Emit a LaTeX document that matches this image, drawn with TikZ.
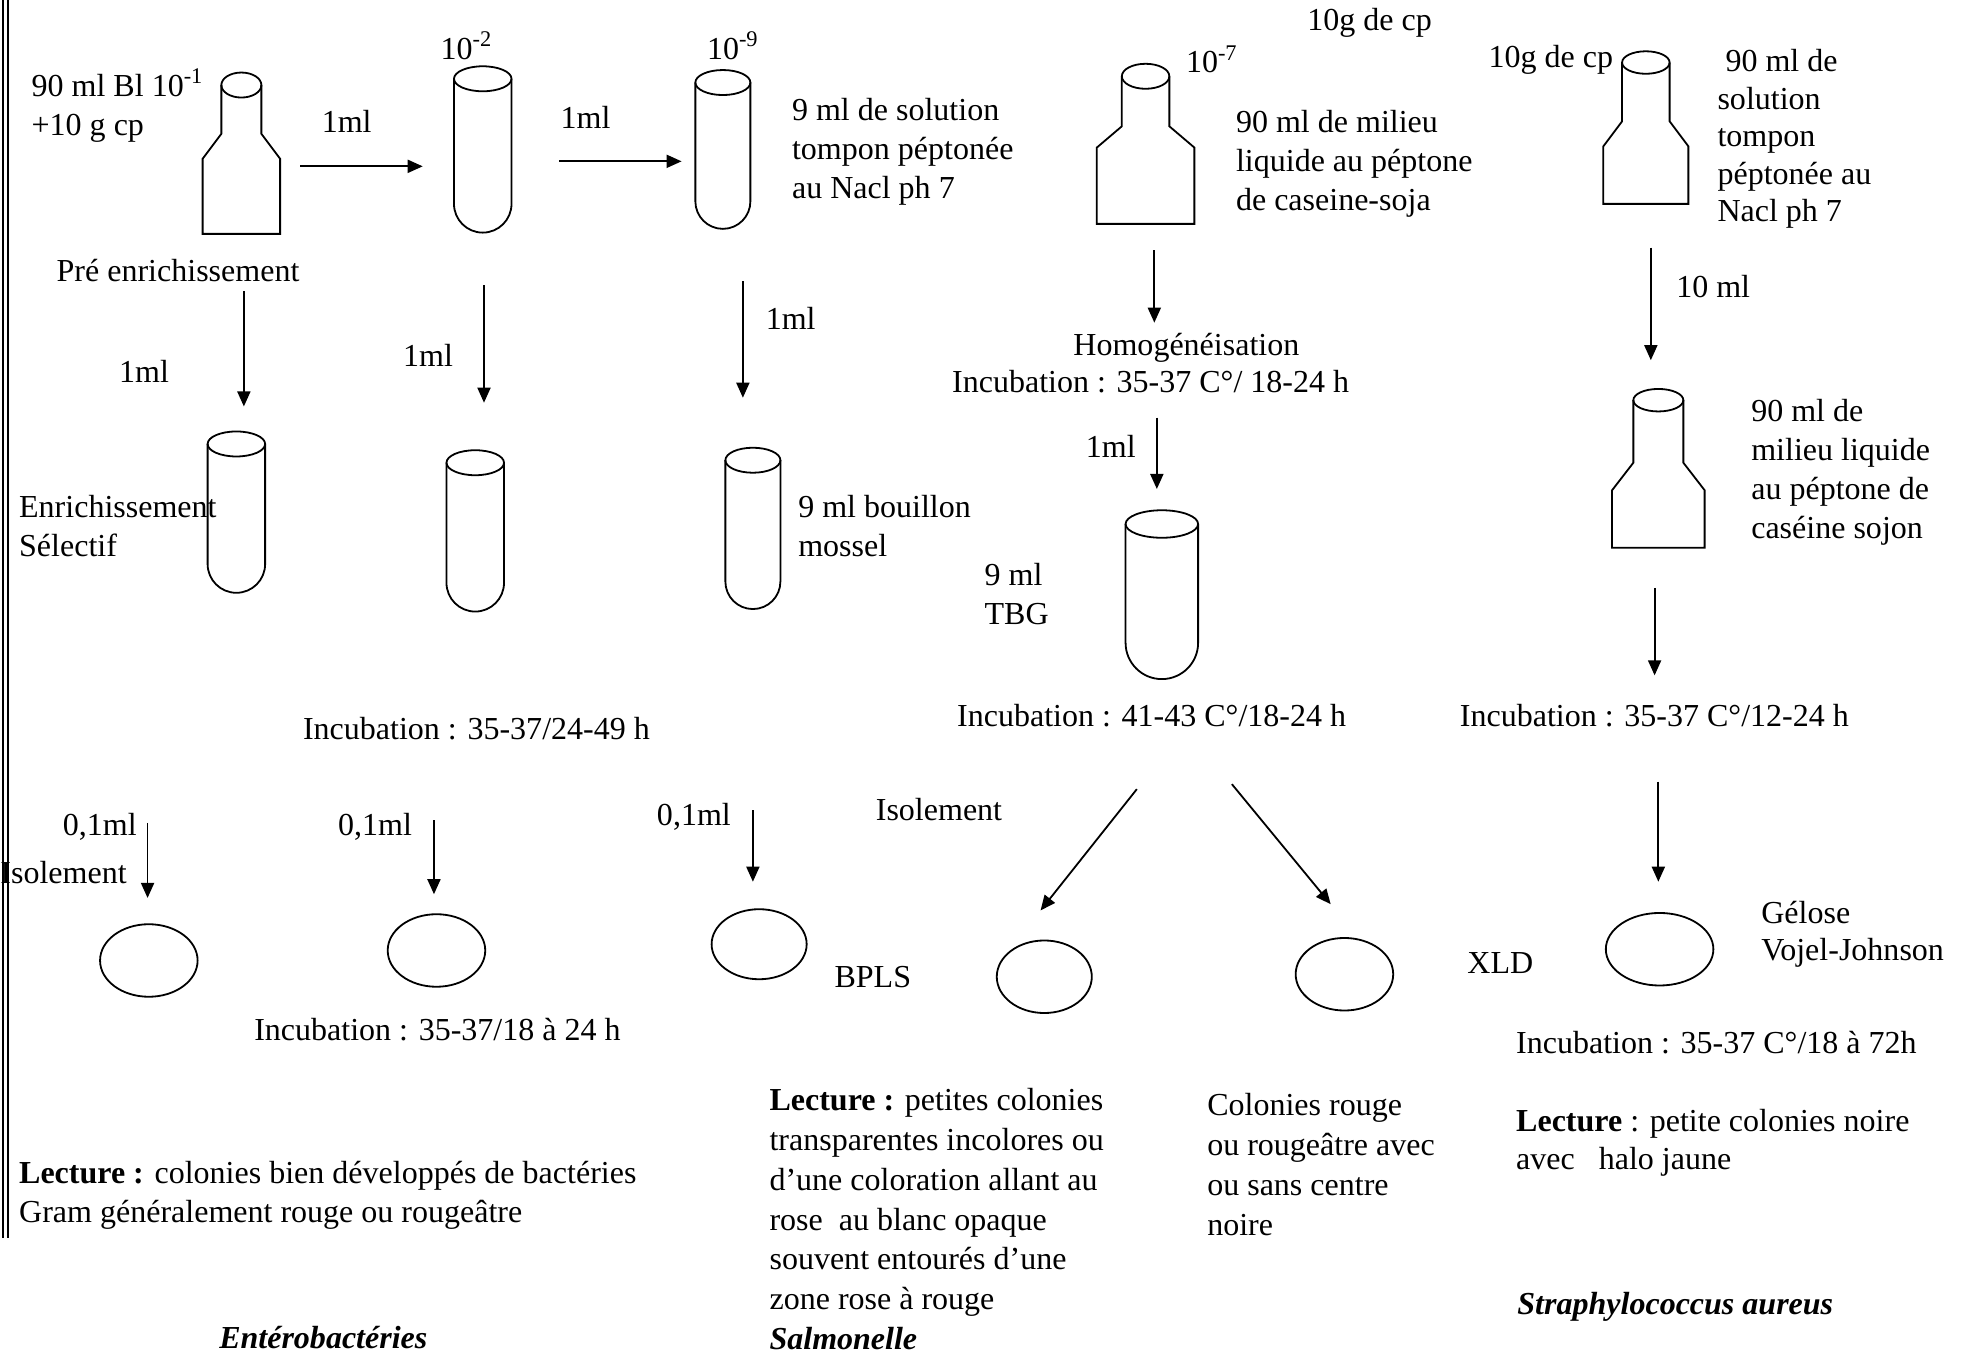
\documentclass[tikz,border=0pt]{standalone}
\usepackage{fontspec}
\setmainfont{Liberation Serif}
\usetikzlibrary{arrows.meta}
\tikzset{
  lw/.style={line width=0.9pt},
  arr/.style={line width=0.9pt,-{Triangle[length=7.5pt,width=6.5pt]}},
  txt/.style={font=\fontsize{16}{19.5}\selectfont, inner sep=0pt, align=left, anchor=north west},
  txtw/.style={txt, font=\fontsize{16}{19.9}\selectfont},
  txtn/.style={txt, font=\fontsize{16}{18.8}\selectfont},
  pics/testtube/.style n args={3}{code={
    \draw[lw] (0,0) ellipse [x radius=#1, y radius=#3];
    \draw[lw] (-#1,0) -- (-#1,#2-#1) arc[start angle=180, end angle=0, radius=#1] -- (#1,0);
  }},
  pics/flask/.style n args={6}{code={
    \draw[lw] (0,0) ellipse [x radius=#1, y radius=#2];
    \draw[lw] (-#1,0) -- (-#1,#3) -- (-#4,#5) -- (-#4,#6) -- (#4,#6) -- (#4,#5) -- (#1,#3) -- (#1,0);
  }},
}
\begin{document}
\begin{tikzpicture}[x=0.625pt,y=-0.625pt]
\useasboundingbox (0,0) rectangle (1568,1093);
% left double rule
\draw[lw] (2.5,0) -- (2.5,990);
\draw[lw] (6.5,0) -- (6.5,990);

% ---------- Enterobacteries ----------
\pic at (193,68) {flask={16}{10}{39}{31}{59}{119}};
\pic at (386,63) {testtube={23}{123}{10}};
\pic at (578,66) {testtube={22}{117}{10}};
\pic at (189,355) {testtube={23}{119}{10}};
\pic at (380,370) {testtube={23}{119}{10}};
\pic at (602,368) {testtube={22}{119}{10}};

\coordinate (p1) at (119,768);
\coordinate (p2) at (349,760);
\coordinate (p3) at (607,755);
\draw[lw] (p1) ellipse [x radius=39, y radius=29];
\draw[lw] (p2) ellipse [x radius=39, y radius=29];
\draw[lw] (p3) ellipse [x radius=38, y radius=28];

\coordinate (a1s) at (240,133); \coordinate (a1e) at (338,133);
\coordinate (a2s) at (447,129); \coordinate (a2e) at (545,129);
\coordinate (d1s) at (195,233); \coordinate (d1e) at (195,325);
\coordinate (d2s) at (387,228); \coordinate (d2e) at (387,322);
\coordinate (d3s) at (594,225); \coordinate (d3e) at (594,318);
\coordinate (i1s) at (118,658); \coordinate (i1e) at (118,718);
\coordinate (i2s) at (347,656); \coordinate (i2e) at (347,715);
\coordinate (i3s) at (602,648); \coordinate (i3e) at (602,705);
\foreach \a in {a1,a2,d1,d2,d3,i1,i2,i3} \draw[arr] (\a s) -- (\a e);

\node[txt] (t1) at (25,55) {90 ml Bl 10\textsuperscript{-1}\\+10 g cp};
\node[txt] (t2) at (257,88) {1ml};
\node[txt] (t3) at (352,25) {10\textsuperscript{-2}};
\node[txt] (t4) at (448,85) {1ml};
\node[txt] (t5) at (565,25) {10\textsuperscript{-9}};
\node[txt] (t6) at (633,78) {9 ml de solution\\tompon péptonée\\au Nacl ph 7};
\node[txt] (t7) at (45,207) {Pré enrichissement};
\node[txt] (t8) at (95,288) {1ml};
\node[txt] (t9) at (322,275) {1ml};
\node[txt] (t10) at (612,245) {1ml};
\node[txt] (t11) at (15,396) {Enrichissement\\Sélectif};
\node[txt] (t12) at (638,396) {9 ml bouillon\\mossel};
\node[txt] (t13) at (242,573) {Incubation : 35-37/24-49 h};
\node[txt] (t14) at (50,650) {0,1ml};
\node[txt] (t15) at (0,688) {Isolement};
\node[txt] (t16) at (270,650) {0,1ml};
\node[txt] (t17) at (525,642) {0,1ml};
\node[txt] (t18) at (203,814) {Incubation : 35-37/18 à 24 h};
\node[txt] (t19) at (15,928) {\textbf{Lecture :} colonies bien développés de bactéries\\Gram généralement rouge ou rougeâtre};
\node[txt] (t20) at (175,1060) {\textbf{\textit{Entérobactéries}}};

% ---------- Salmonella ----------
\pic at (916,61) {flask={19}{10}{40}{39}{57}{118}};
\pic at (929,419) {testtube={29}{124}{11}};
\coordinate (pb) at (835,781);
\coordinate (px) at (1075,779);
\draw[lw] (pb) ellipse [x radius=38, y radius=29];
\draw[lw] (px) ellipse [x radius=39, y radius=29];

\coordinate (s1s) at (923,200); \coordinate (s1e) at (923,258);
\coordinate (s2s) at (925,334); \coordinate (s2e) at (925,391);
\coordinate (s3s) at (909,631); \coordinate (s3e) at (832,728);
\coordinate (s4s) at (985,627); \coordinate (s4e) at (1064,723);
\foreach \a in {s1,s2,s3,s4} \draw[arr] (\a s) -- (\a e);

\node[txt] (u1) at (1045,6) {10g de cp};
\node[txt] (u2) at (948,36) {10\textsuperscript{-7}};
\node[txt] (u3) at (988,88) {90 ml de milieu\\liquide au péptone\\de caseine-soja};
\node[txt] (u4) at (858,266) {Homogénéisation};
\node[txt] (u5) at (761,296) {Incubation : 35-37 C°/ 18-24 h};
\node[txt] (u6) at (868,348) {1ml};
\node[txt] (u7) at (787,450) {9 ml\\TBG};
\node[txt] (u8) at (765,563) {Incubation : 41-43 C°/18-24 h};
\node[txt] (u9) at (700,638) {Isolement};
\node[txt] (u10) at (667,772) {BPLS};
\node[txt] (u11) at (1173,761) {XLD};
\node[txtw] (u12) at (615,870) {\textbf{Lecture :} petites colonies\\transparentes incolores ou\\d’une coloration allant au\\rose\ \ au blanc opaque\\souvent entourés d’une\\zone rose à rouge\\\textbf{\textit{Salmonelle}}};
\node[txtw] (u13) at (965,874) {Colonies rouge\\ou rougeâtre avec\\ou sans centre\\noire};

% ---------- Staphylococcus ----------
\pic at (1316,50) {flask={19}{9}{47}{34}{67}{113}};
\pic at (1326,320) {flask={20}{9}{50}{37}{72}{118}};
\coordinate (ps) at (1327,759);
\draw[lw] (ps) ellipse [x radius=43, y radius=29];

\coordinate (v1s) at (1320,198); \coordinate (v1e) at (1320,288);
\coordinate (v2s) at (1323,470); \coordinate (v2e) at (1323,540);
\coordinate (v3s) at (1326,625); \coordinate (v3e) at (1326,705);
\foreach \a in {v1,v2,v3} \draw[arr] (\a s) -- (\a e);

\node[txt] (w1) at (1190,36) {10g de cp};
\node[txtn] (w2) at (1373,39) {\ 90 ml de\\solution\\tompon\\péptonée au\\Nacl ph 7};
\node[txt] (w3) at (1340,220) {10 ml};
\node[txt] (w4) at (1400,319) {90 ml de\\milieu liquide\\au péptone de\\caséine sojon};
\node[txt] (w5) at (1167,563) {Incubation : 35-37 C°/12-24 h};
\node[txtn] (w6) at (1408,720) {Gélose\\Vojel-Johnson};
\node[txt] (w7) at (1212,824) {Incubation : 35-37 C°/18 à 72h};
\node[txtn] (w8) at (1212,887) {\textbf{Lecture} : petite colonies noire\\avec\ \ \ halo jaune};
\node[txt] (w9) at (1213,1033) {\textbf{\textit{Straphylococcus aureus}}};
\end{tikzpicture}
\end{document}
